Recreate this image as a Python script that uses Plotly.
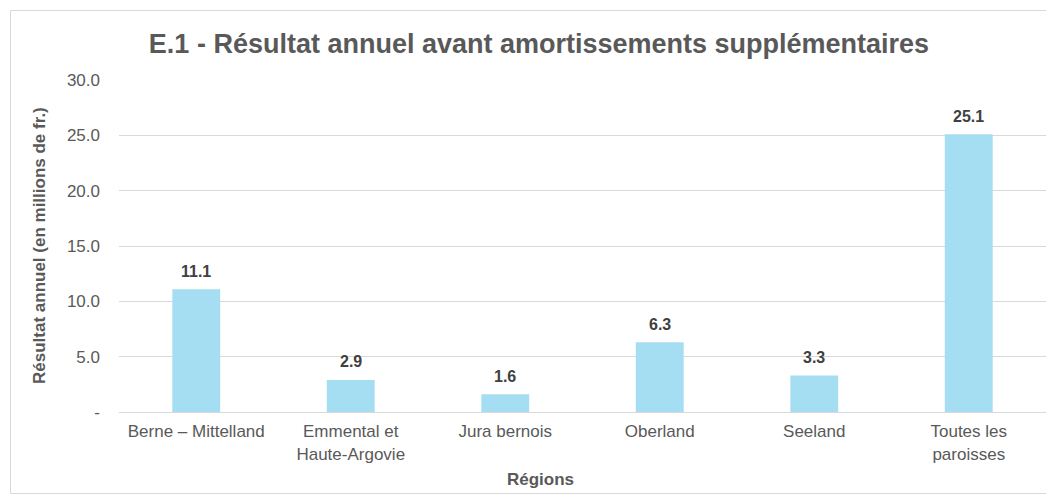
import plotly.graph_objects as go

categories = ["Berne – Mittelland", "Emmental et<br>Haute-Argovie", "Jura bernois",
              "Oberland", "Seeland", "Toutes les<br>paroisses"]
values = [11.1, 2.9, 1.6, 6.3, 3.3, 25.1]
tick_vals = [0, 5, 10, 15, 20, 25, 30]
tick_text = ["-", "5.0", "10.0", "15.0", "20.0", "25.0", "30.0"]

# page body has an 8px margin; all positions below are in reference-image pixels
OFF = 8
W, H = 1046, 496
ml, mr, mt, mb = 119 - OFF, 8, 80 - OFF, H - (412 - OFF)
pw, ph = W - ml - mr, H - mt - mb

def px_x(p):
    return (p - OFF - ml) / pw

def px_y(p):
    return (H - mb - (p - OFF)) / ph

FONT = "Liberation Sans, Arial"

fig = go.Figure()
fig.add_trace(go.Bar(
    x=categories, y=values,
    marker=dict(color="#A5DEF2", line=dict(width=0)),
    width=0.31,
))

annotations = [
    dict(x=c, y=v, xref="x", yref="y", text=f"<b>{v:.1f}</b>", showarrow=False,
         yanchor="middle", yshift=18, font=dict(family=FONT, size=16, color="#404040"))
    for c, v in zip(categories, values)
]
annotations += [
    dict(text="<b>Régions</b>", xref="paper", yref="paper",
         x=px_x(540), y=px_y(479), xanchor="center", yanchor="middle",
         showarrow=False, font=dict(family=FONT, size=17, color="#595959")),
    dict(text="<b>Résultat annuel (en millions de fr.)</b>", xref="paper", yref="paper",
         x=px_x(39), y=px_y(246), xanchor="center", yanchor="middle", textangle=-90,
         showarrow=False, font=dict(family=FONT, size=17, color="#595959")),
]

fig.update_layout(
    width=W, height=H,
    margin=dict(l=ml, r=mr, t=mt, b=mb),
    paper_bgcolor="white", plot_bgcolor="white",
    font=dict(family=FONT, size=17, color="#595959"),
    showlegend=False,
    title=dict(text="<b>E.1 - Résultat annuel avant amortissements supplémentaires</b>",
               x=(539 - OFF) / W, xanchor="center", y=1 - (44 - OFF) / H, yanchor="middle",
               font=dict(size=27, color="#595959", family=FONT)),
    xaxis=dict(showgrid=False, showline=True, linecolor="#D9D9D9", linewidth=1,
               ticks="", ticklabelstandoff=4, tickfont=dict(size=17, color="#595959")),
    yaxis=dict(range=[0, 30], tickvals=tick_vals, ticktext=tick_text,
               showgrid=True, gridcolor="#D9D9D9", gridwidth=1, zeroline=False,
               showline=False, ticks="", ticklabelstandoff=18,
               tickfont=dict(size=17, color="#595959")),
    annotations=annotations,
    shapes=[dict(type="rect", xref="paper", yref="paper",
                 x0=px_x(10.5), x1=px_x(1051.5), y0=px_y(493.5), y1=px_y(10.5),
                 line=dict(color="#D9D9D9", width=1), fillcolor="rgba(0,0,0,0)", layer="below")],
)

fig.write_html("out.html")
